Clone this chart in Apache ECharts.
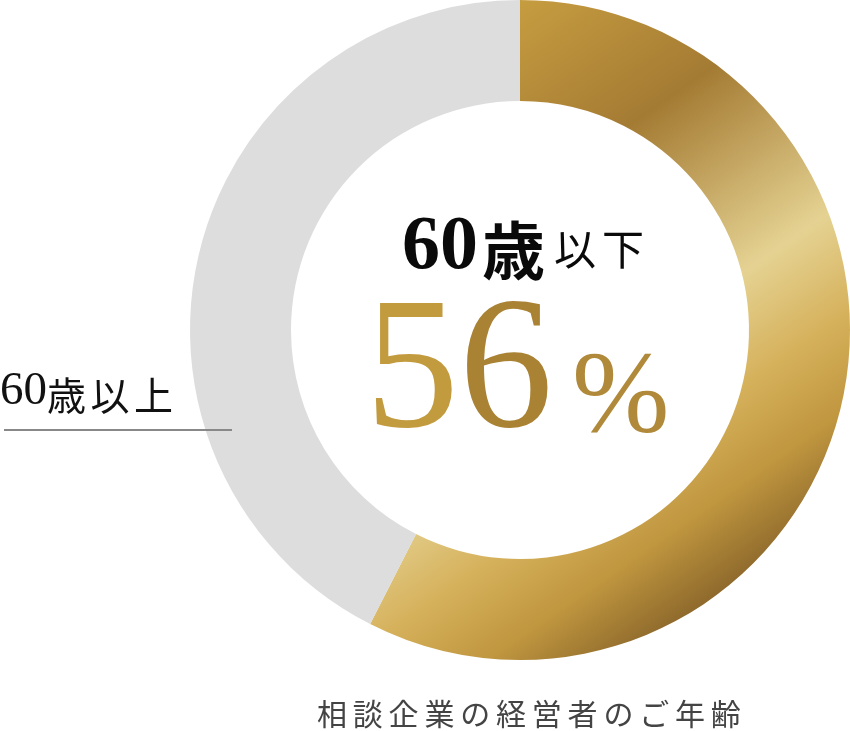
<!DOCTYPE html>
<html><head><meta charset="utf-8">
<script src="https://cdn.jsdelivr.net/npm/echarts@6/dist/echarts.min.js"></script>
<style>html,body{margin:0;padding:0;background:#fff}#main{width:850px;height:731px}</style>
</head><body><div id="main"></div>
<script>
// ---- data ----
const categories = ['60歳以下', '60歳以上'];
const shares = [57.5, 42.5];
const centerAgeNum = '60';
const centerAgeUnit = '歳';
const centerAgeSuffix = ['以', '下'];
const centerValueDigits = ['5', '6'];
const centerValueUnit = '%';
const outsideLabelNum = '60';
const outsideLabelChars = ['歳', '以', '上'];
const captionText = '相談企業の経営者のご年齢';

const chart = echarts.init(document.getElementById('main'), null, { renderer: 'canvas' });

const goldRing = new echarts.graphic.LinearGradient(165, 238, 530, 763, [
  { offset: 0.00, color: '#c89e41' },
  { offset: 0.27, color: '#a47b33' },
  { offset: 0.56, color: '#e5d292' },
  { offset: 0.71, color: '#d5b05a' },
  { offset: 0.83, color: '#c0963f' },
  { offset: 0.95, color: '#8f6a2c' },
  { offset: 1.00, color: '#8a6529' }
], true);

const serif = '"Liberation Serif", "DejaVu Serif", serif';
const cjk = '"Noto Sans CJK JP", sans-serif';

const captionRich = captionText.split('').map(c => '{c|' + c + '}').join('');

option = {
  backgroundColor: '#ffffff',
  animation: false,
  series: [{
    type: 'pie',
    center: [520, 330],
    radius: [229, 330],
    startAngle: 90,
    clockwise: true,
    silent: true,
    label: { show: false },
    labelLine: { show: false },
    emphasis: { disabled: true },
    data: [
      { name: categories[0], value: shares[0], itemStyle: { color: goldRing } },
      { name: categories[1], value: shares[1], itemStyle: { color: '#dddddd' } }
    ]
  }],
  graphic: [
    {
      type: 'text', left: 402, top: 210, z: 100, silent: true,
      style: {
        text: '{n|' + centerAgeNum + '}{k|' + centerAgeUnit + '}{s|' + centerAgeSuffix[0] + '}{t|' + centerAgeSuffix[1] + '}',
        rich: {
          n: { fontFamily: serif, fontWeight: 'bold', fontSize: 76, fill: '#0a0a0a', width: 80, lineHeight: 60, verticalAlign: 'middle' },
          k: { fontFamily: cjk, fontWeight: 'bold', fontSize: 63, fill: '#0a0a0a', width: 72, height: 56, lineHeight: 60, verticalAlign: 'bottom' },
          s: { fontFamily: cjk, fontWeight: 'normal', fontSize: 42, fill: '#0a0a0a', width: 48, height: 58, lineHeight: 60, verticalAlign: 'bottom' },
          t: { fontFamily: cjk, fontWeight: 'normal', fontSize: 42, fill: '#0a0a0a', height: 58, lineHeight: 60, verticalAlign: 'bottom' }
        }
      }
    },
    {
      type: 'text', left: 365, top: 283, z: 100, silent: true,
      style: {
        text: '{a|' + centerValueDigits[0] + '}{b|' + centerValueDigits[1] + '}{p|' + centerValueUnit + '}',
        rich: {
          a: { fontFamily: serif, fontSize: 188, fill: '#c39b3f', lineHeight: 180, verticalAlign: 'bottom' },
          b: { fontFamily: serif, fontSize: 188, fill: '#aa8234', width: 113, lineHeight: 180, verticalAlign: 'bottom' },
          p: { fontFamily: serif, fontSize: 117, fill: '#b08a3a', height: 142, lineHeight: 180, verticalAlign: 'bottom' }
        }
      }
    },
    {
      type: 'text', left: 0, top: 368, z: 100, silent: true,
      style: {
        text: '{n|' + outsideLabelNum + '}' + outsideLabelChars.map(c => '{k|' + c + '}').join(''),
        rich: {
          n: { fontFamily: serif, fontSize: 47, fill: '#111111', lineHeight: 50, verticalAlign: 'bottom' },
          k: { fontFamily: cjk, fontSize: 39, fill: '#111111', width: 43.5, lineHeight: 50, verticalAlign: 'bottom' }
        }
      }
    },
    {
      type: 'line', z: 100, silent: true,
      shape: { x1: 4, y1: 430, x2: 232, y2: 430 },
      style: { stroke: '#888888', lineWidth: 2 }
    },
    {
      type: 'text', left: 317, top: 699, z: 100, silent: true,
      style: {
        text: captionRich,
        rich: {
          c: { fontFamily: cjk, fontSize: 30, fill: '#444444', width: 35.8, lineHeight: 30 }
        }
      }
    }
  ]
};
chart.setOption(option);
</script>
</body></html>
